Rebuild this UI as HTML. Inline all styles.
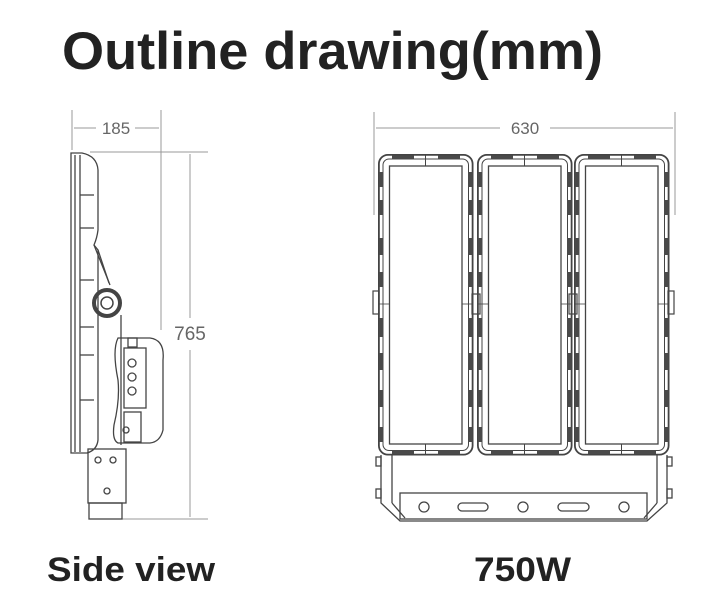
<!DOCTYPE html>
<html><head><meta charset="utf-8"><style>
html,body{margin:0;padding:0;background:#fff;}
svg{display:block;}
</style></head><body>
<svg width="724" height="609" viewBox="0 0 724 609" xmlns="http://www.w3.org/2000/svg" font-family="'Liberation Sans', sans-serif">
<defs>
<g id="panel" fill="none" stroke="#444">
  <rect x="0.9" y="0.9" width="93.7" height="299.7" rx="9" stroke-width="1.8"/>
  <rect x="5" y="5" width="85.5" height="291.5" rx="6" stroke-width="1"/>
  <g fill="#4a4a4a" stroke="none">
    <rect x="14" y="1.5" width="22" height="4"/><rect x="60" y="1.5" width="22" height="4"/>
    <rect x="14" y="296" width="22" height="4"/><rect x="60" y="296" width="22" height="4"/>
    <rect x="1" y="18" width="4.5" height="15"/><rect x="1" y="46" width="4.5" height="15"/>
    <rect x="1" y="84" width="4.5" height="17"/><rect x="1" y="118" width="4.5" height="15"/>
    <rect x="1" y="164" width="4.5" height="19"/><rect x="1" y="199" width="4.5" height="17"/>
    <rect x="1" y="236" width="4.5" height="17"/><rect x="1" y="273" width="4.5" height="15"/>
    <rect x="90" y="18" width="4.5" height="15"/><rect x="90" y="46" width="4.5" height="15"/>
    <rect x="90" y="84" width="4.5" height="17"/><rect x="90" y="118" width="4.5" height="15"/>
    <rect x="90" y="164" width="4.5" height="19"/><rect x="90" y="199" width="4.5" height="17"/>
    <rect x="90" y="236" width="4.5" height="17"/><rect x="90" y="273" width="4.5" height="15"/>
  </g>
  <rect x="11.5" y="12" width="72.5" height="278" stroke-width="1.3"/>
  <line x1="47.5" y1="0" x2="47.5" y2="12" stroke-width="1"/>
  <line x1="47.5" y1="290" x2="47.5" y2="301" stroke-width="1"/>
  <line x1="0" y1="150" x2="11.5" y2="150" stroke-width="0.8"/>
  <line x1="84" y1="150" x2="95" y2="150" stroke-width="0.8"/>
</g>
</defs>

<text x="62" y="69" font-size="53" font-weight="bold" fill="#222" textLength="541" lengthAdjust="spacingAndGlyphs">Outline drawing(mm)</text>
<text x="47" y="581" font-size="34" font-weight="bold" fill="#222" textLength="168" lengthAdjust="spacingAndGlyphs">Side view</text>
<text x="474" y="581" font-size="34" font-weight="bold" fill="#222" textLength="97" lengthAdjust="spacingAndGlyphs">750W</text>

<g stroke="#999" stroke-width="1" fill="none">
  <line x1="374" y1="112" x2="374" y2="215"/>
  <line x1="675" y1="112" x2="675" y2="215"/>
  <line x1="376" y1="128" x2="500" y2="128"/>
  <line x1="550" y1="128" x2="673" y2="128"/>
</g>
<text x="525" y="134" font-size="17" fill="#666" text-anchor="middle">630</text>

<use href="#panel" x="378" y="154"/>
<use href="#panel" x="477" y="154"/>
<use href="#panel" x="574" y="154"/>

<g fill="none" stroke="#444" stroke-width="1.2">
  <rect x="373" y="291" width="6" height="23"/>
  <rect x="668" y="291" width="6" height="23"/>
  <rect x="472" y="294" width="8" height="20"/>
  <rect x="569" y="294" width="8" height="20"/>
</g>

<g fill="none" stroke="#444" stroke-width="1.3">
  <path d="M381 455 V503 L400 521 H647 L667 503 V455"/>
  <line x1="392" y1="455" x2="392" y2="503"/>
  <line x1="657" y1="455" x2="657" y2="503"/>
  <path d="M392 503 L405 518"/><path d="M657 503 L644 518"/>
  <rect x="400" y="493" width="247" height="26"/>
  <rect x="376" y="457" width="5" height="9"/><rect x="376" y="489" width="5" height="9"/>
  <rect x="667" y="457" width="5" height="9"/><rect x="667" y="489" width="5" height="9"/>
  <circle cx="424" cy="507" r="5"/>
  <rect x="458" y="503" width="30" height="8" rx="4"/>
  <circle cx="523" cy="507" r="5"/>
  <rect x="558" y="503" width="31" height="8" rx="4"/>
  <circle cx="624" cy="507" r="5"/>
</g>

<g stroke="#999" stroke-width="1" fill="none">
  <line x1="72" y1="110" x2="72" y2="150"/>
  <line x1="161" y1="110" x2="161" y2="330"/>
  <line x1="74" y1="128" x2="96" y2="128"/>
  <line x1="135" y1="128" x2="159" y2="128"/>
  <line x1="90" y1="152" x2="208" y2="152"/>
  <line x1="90" y1="519" x2="208" y2="519"/>
  <line x1="190" y1="154" x2="190" y2="318"/>
  <line x1="190" y1="350" x2="190" y2="517"/>
</g>
<text x="116" y="134" font-size="17" fill="#666" text-anchor="middle">185</text>
<text x="190" y="340" font-size="19" fill="#666" text-anchor="middle">765</text>

<g fill="none" stroke="#444" stroke-width="1.3">
  <path d="M71 153 H82 Q97 156 98 170 V230 Q97 238 94 245 L98 250 V440 Q97 450 87 453 H71 Z"/>
  <line x1="75" y1="155" x2="75" y2="452"/>
  <line x1="80" y1="155" x2="80" y2="452"/>
  <line x1="80" y1="195" x2="94" y2="195"/><line x1="80" y1="228" x2="94" y2="228"/>
  <line x1="80" y1="280" x2="94" y2="280"/><line x1="80" y1="327" x2="94" y2="327"/>
  <line x1="80" y1="355" x2="94" y2="355"/><line x1="80" y1="400" x2="94" y2="400"/>
  <line x1="94" y1="245" x2="110" y2="285"/>
  <line x1="98" y1="250" x2="109" y2="283"/>
  <circle cx="107" cy="303" r="13" stroke-width="4"/>
  <circle cx="107" cy="303" r="6" stroke-width="1.5"/>
  <line x1="121" y1="315" x2="121" y2="445"/>
  <path d="M118 338 H150 Q165 340 163 360 V430 Q160 442 150 443 H118 Q112 440 114 425 Q120 400 118 380 Q112 350 118 338 Z"/>
  <rect x="124" y="348" width="22" height="60"/>
  <circle cx="132" cy="363" r="4"/><circle cx="132" cy="377" r="4"/><circle cx="132" cy="391" r="4"/>
  <rect x="128" y="338" width="9" height="9"/>
  <rect x="124" y="412" width="17" height="30"/>
  <circle cx="126" cy="430" r="3"/>
  <rect x="88" y="449" width="38" height="54"/>
  <circle cx="98" cy="460" r="3"/><circle cx="113" cy="460" r="3"/><circle cx="107" cy="491" r="3"/>
  <rect x="89" y="503" width="33" height="16"/>
</g>
</svg>
</body></html>
